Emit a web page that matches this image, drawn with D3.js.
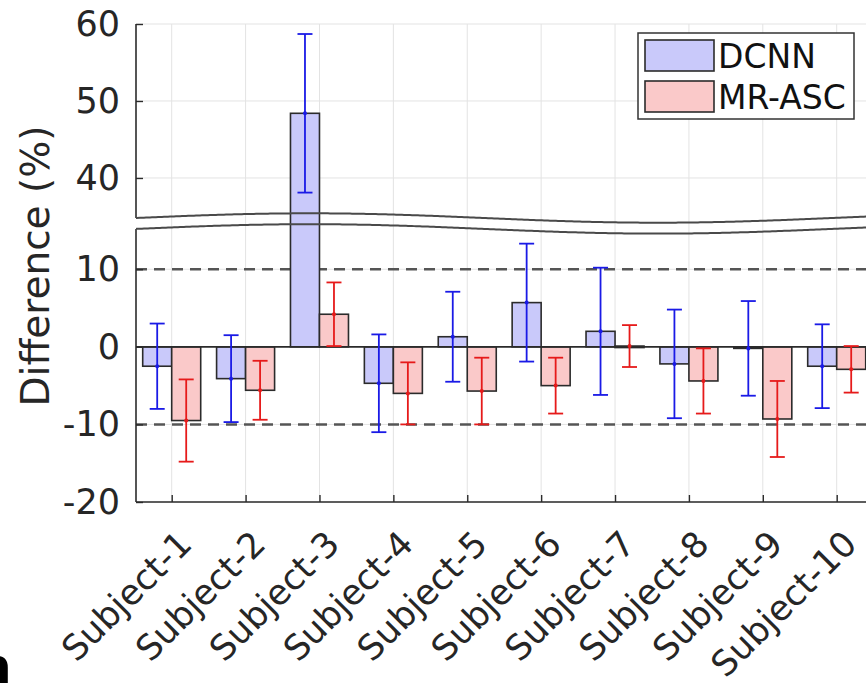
<!DOCTYPE html>
<html>
<head>
<meta charset="utf-8">
<script src="https://cdn.jsdelivr.net/npm/d3@7"></script>
<style>
  html, body { margin: 0; padding: 0; background: #fff; }
  svg { display: block; font-family: "DejaVu Sans", sans-serif; }
</style>
</head>
<body>
<svg id="chart" width="866" height="689"></svg>
<script>
// ---- data ----
const subjects = ["Subject-1","Subject-2","Subject-3","Subject-4","Subject-5",
                  "Subject-6","Subject-7","Subject-8","Subject-9","Subject-10"];
const seriesNames = ["DCNN", "MR-ASC"];
const dcnnMean = [-2.5, -4.1, 48.4, -4.7, 1.3, 5.7, 2.0, -2.2, -0.2, -2.5];
const dcnnErr  = [5.5, 5.6, 10.3, 6.3, 5.8, 7.6, 8.2, 7.0, 6.1, 5.4];
const mrMean   = [-9.5, -5.6, 4.2, -6.0, -5.7, -5.0, 0.1, -4.4, -9.3, -2.9];
const mrErr    = [5.3, 3.8, 4.1, 4.0, 4.3, 3.6, 2.7, 4.2, 4.9, 3.0];
const lowerTicks = [-20, -10, 0, 10];
const upperTicks = [40, 50, 60];
const refLines = [-10, 10];
const breakLow = 15.2, breakHigh = 34.8;

// ---- layout ----
const svg = d3.select("#chart");
const pLeft = 136, pRight = 880, pBottom = 502, pTop = 24;
const yBreakLowPx = 228.9, yBreakHighPx = 218;

const y = d3.scaleLinear()
  .domain([-20, breakLow, breakHigh, 60])
  .range([pBottom, yBreakLowPx, yBreakHighPx, pTop]);

const x0 = d3.scalePoint().domain(subjects).range([171.7, 836.7]);
const x1 = d3.scaleBand().domain(seriesNames).range([-29, 29]);

const fills = { "DCNN": "#c9c9fa", "MR-ASC": "#fac9c9" };
const errCol = { "DCNN": "#1a1ae6", "MR-ASC": "#e61a1a" };
const axisCol = "#2b2b2b";
const textCol = "#262626";

const rows = [];
subjects.forEach((s, i) => {
  rows.push({ s, k: "DCNN", v: dcnnMean[i], e: dcnnErr[i] });
  rows.push({ s, k: "MR-ASC", v: mrMean[i], e: mrErr[i] });
});

// ---- gridlines ----
const grid = svg.append("g");
grid.selectAll("line.gx").data(subjects).join("line")
  .attr("x1", d => x0(d)).attr("x2", d => x0(d))
  .attr("y1", pTop).attr("y2", pBottom)
  .attr("stroke", "#e3e3e3").attr("stroke-width", 1);
grid.selectAll("line.gy").data(lowerTicks.concat(upperTicks)).join("line")
  .attr("x1", pLeft).attr("x2", pRight)
  .attr("y1", d => y(d)).attr("y2", d => y(d))
  .attr("stroke", "#e3e3e3").attr("stroke-width", 1);

// dashed reference lines
svg.append("g").selectAll("line").data(refLines).join("line")
  .attr("x1", pLeft).attr("x2", pRight)
  .attr("y1", d => y(d)).attr("y2", d => y(d))
  .attr("stroke", "#555").attr("stroke-width", 2.5)
  .attr("stroke-dasharray", "11,7");

// ---- bars ----
svg.append("g").selectAll("rect").data(rows).join("rect")
  .attr("x", d => x0(d.s) + x1(d.k))
  .attr("width", x1.bandwidth())
  .attr("y", d => Math.min(y(d.v), y(0)))
  .attr("height", d => Math.max(Math.abs(y(d.v) - y(0)), 1.5))
  .attr("fill", d => fills[d.k])
  .attr("stroke", axisCol).attr("stroke-width", 1.6);

// baseline
svg.append("line")
  .attr("x1", pLeft).attr("x2", pRight)
  .attr("y1", y(0)).attr("y2", y(0))
  .attr("stroke", axisCol).attr("stroke-width", 1.6);

// ---- error bars ----
const eb = svg.append("g").selectAll("g").data(rows).join("g")
  .attr("stroke", d => errCol[d.k]).attr("stroke-width", 1.8);
const cx = d => x0(d.s) + x1(d.k) + x1.bandwidth() / 2;
eb.append("line")
  .attr("x1", cx).attr("x2", cx)
  .attr("y1", d => y(d.v + d.e)).attr("y2", d => y(d.v - d.e));
eb.append("line")
  .attr("x1", d => cx(d) - 7.5).attr("x2", d => cx(d) + 7.5)
  .attr("y1", d => y(d.v + d.e)).attr("y2", d => y(d.v + d.e));
eb.append("line")
  .attr("x1", d => cx(d) - 7.5).attr("x2", d => cx(d) + 7.5)
  .attr("y1", d => y(d.v - d.e)).attr("y2", d => y(d.v - d.e));
eb.append("circle")
  .attr("cx", cx).attr("cy", d => y(d.v)).attr("r", 2)
  .attr("fill", d => errCol[d.k]).attr("stroke", "none");

// ---- axes ----
const yAxis = d3.axisLeft(y)
  .tickValues(lowerTicks.concat(upperTicks))
  .tickSize(-7).tickPadding(16)
  .tickFormat(d => String(d));
const gy = svg.append("g").attr("transform", `translate(${pLeft},0)`).call(yAxis);
gy.select(".domain").remove();
gy.selectAll(".tick line").attr("stroke", axisCol).attr("stroke-width", 1.4);
gy.selectAll(".tick text").attr("fill", textCol)
  .style("font-size", "35px").style("font-family", "DejaVu Sans");

// axis line segments (left)
svg.append("line").attr("x1", pLeft).attr("x2", pLeft)
  .attr("y1", y(60)).attr("y2", y(breakHigh))
  .attr("stroke", axisCol).attr("stroke-width", 1.6);
svg.append("line").attr("x1", pLeft).attr("x2", pLeft)
  .attr("y1", y(breakLow)).attr("y2", y(-20))
  .attr("stroke", axisCol).attr("stroke-width", 1.6);

const xAxis = d3.axisBottom(x0).tickSize(-7).tickFormat("");
const gx = svg.append("g").attr("transform", `translate(0,${pBottom})`).call(xAxis);
gx.select(".domain").remove();
gx.selectAll(".tick line").attr("stroke", axisCol).attr("stroke-width", 1.4);
svg.append("line").attr("x1", pLeft).attr("x2", pRight)
  .attr("y1", pBottom).attr("y2", pBottom)
  .attr("stroke", axisCol).attr("stroke-width", 1.6);

// rotated category labels
svg.append("g").selectAll("text").data(subjects).join("text")
  .attr("transform", d => `translate(${x0(d) + 22},546) rotate(-45)`)
  .attr("text-anchor", "end")
  .attr("fill", textCol)
  .style("font-size", "35px")
  .text(d => d);

// y title
svg.append("text")
  .attr("transform", "translate(49,266) rotate(-90)")
  .attr("text-anchor", "middle")
  .attr("fill", textCol)
  .style("font-size", "39px")
  .text("Difference (%)");

// ---- axis break (wavy lines) ----
const waveX = d3.range(pLeft, pRight + 1, 4);
const wave = d3.line().curve(d3.curveBasis);
const waveY = xx => -4.7 * Math.sin(2 * Math.PI * (xx - pLeft) / 696);
svg.append("path")
  .attr("d", wave(waveX.map(xx => [xx, y(breakHigh) + waveY(xx)])))
  .attr("fill", "none").attr("stroke", "#4a4a4a").attr("stroke-width", 2);
svg.append("path")
  .attr("d", wave(waveX.map(xx => [xx, y(breakLow) + waveY(xx)])))
  .attr("fill", "none").attr("stroke", "#4a4a4a").attr("stroke-width", 2);

// ---- legend ----
const lg = svg.append("g");
lg.append("rect").attr("x", 638).attr("y", 33).attr("width", 216).attr("height", 86)
  .attr("fill", "#fff").attr("stroke", "#333").attr("stroke-width", 1.5);
const legY = [40, 81];
seriesNames.forEach((k, i) => {
  lg.append("rect").attr("x", 645).attr("y", legY[i]).attr("width", 69).attr("height", 31)
    .attr("fill", fills[k]).attr("stroke", axisCol).attr("stroke-width", 1.6);
  lg.append("text").attr("x", 718).attr("y", legY[i] + 28)
    .attr("fill", "#111").style("font-size", "33px").text(k);
});

// panel letter (cut off at the left edge, as in the source figure)
svg.append("text").attr("x", -22).attr("y", 683)
  .style("font-size", "50px").style("font-weight", "bold")
  .attr("fill", "#000").text("a");
</script>
</body>
</html>
